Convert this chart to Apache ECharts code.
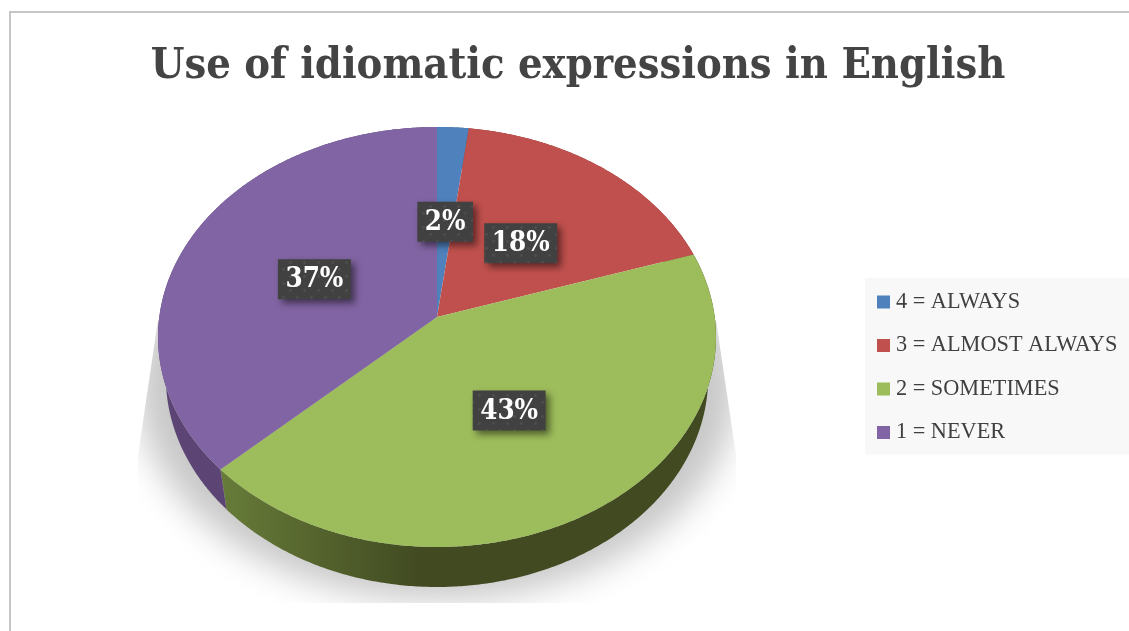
<!DOCTYPE html>
<html>
<head>
<meta charset="utf-8">
<title>Use of idiomatic expressions in English</title>
<style>
  html, body { margin: 0; padding: 0; background: #fff; }
  #chart { width: 1129px; height: 631px; }
</style>
<script src="https://cdn.jsdelivr.net/npm/echarts@6/dist/echarts.min.js"></script>
</head>
<body>
<div id="chart"></div>
<script>
// Survey answers, in the order the slices run clockwise from twelve o'clock.
const categories = ['4 = ALWAYS', '3 = ALMOST ALWAYS', '2 = SOMETIMES', '1 = NEVER'];
const shares = [2, 18, 43, 37];
const topColors = ['#4f81bd', '#c0504d', '#9dbc5b', '#8164a3'];
const wallColors = ['#3a5a80', '#83322f', '#414a21', '#5c4475'];
const titleText = 'Use of idiomatic expressions in English';
const serifFont = '"Liberation Serif", serif';
const headingFont = '"DejaVu Serif Condensed", "DejaVu Serif", serif';

// Tilted disc: a unit circle seen in perspective, with the near rim larger than the far rim.
const disc = { cx: 437, cy: 317, a: 277.7, b: 208.1, k: 0.0952, depth: 40, wallInset: 0.972, labelRadius: 0.49 };
const total = shares.reduce((s, v) => s + v, 0);

function project(theta, r) {
  const X = r * Math.sin(theta), Y = r * Math.cos(theta);
  const w = 1 + disc.k * Y;
  return [disc.cx + disc.a * X / w, disc.cy - disc.b * Y / w];
}
function floorPoint(theta) {
  const p = project(theta, 1);
  return [disc.cx + (p[0] - disc.cx) * disc.wallInset, p[1] + disc.depth];
}
function arc(fn, from, to) {
  const steps = Math.max(2, Math.ceil(Math.abs(to - from) / (Math.PI / 360)));
  const pts = [];
  for (let i = 0; i <= steps; i++) pts.push(fn(from + (to - from) * i / steps));
  return pts;
}

// Speckled tile behind the percentage labels.
const speckle = document.createElement('canvas');
speckle.width = speckle.height = 14;
(function () {
  const c = speckle.getContext('2d');
  c.fillStyle = '#414141';
  c.fillRect(0, 0, 14, 14);
  c.fillStyle = '#4f4f4f';
  [[3.5, 3.5], [10.5, 10.5]].forEach(p => {
    c.beginPath();
    c.arc(p[0], p[1], 1.4, 0, Math.PI * 2);
    c.fill();
  });
})();

const measure = document.createElement('canvas').getContext('2d');
const labelFont = 'bold 27.5px ' + headingFont;
measure.font = labelFont;

function renderSlice(index) {
  return function (params, api) {
    const before = shares.slice(0, index).reduce((s, v) => s + v, 0);
    const start = before / total * Math.PI * 2;
    const end = (before + api.value(0)) / total * Math.PI * 2;
    const rim = arc(t => project(t, 1), start, end);
    const floor = arc(floorPoint, start, end).reverse();
    const wallFill = index === 2
      ? { type: 'linear', x: 220, y: 0, x2: 420, y2: 0, global: true,
          colorStops: [{ offset: 0, color: '#677c39' }, { offset: 1, color: wallColors[2] }] }
      : wallColors[index];

    const mid = (start + end) / 2;
    const anchor = project(mid, disc.labelRadius);
    const cy = anchor[1] + 2;
    const text = Math.round(api.value(0) / total * 100) + '%';
    const boxW = measure.measureText(text).width + 15;
    const boxH = 40;

    return {
      type: 'group',
      children: [
        { type: 'polygon', z2: 1, shape: { points: rim.concat(floor) }, style: { fill: wallFill } },
        { type: 'polygon', z2: 2, shape: { points: [[disc.cx, disc.cy]].concat(rim) }, style: { fill: topColors[index] } },
        { type: 'rect', z2: 3,
          shape: { x: anchor[0] - boxW / 2, y: cy - boxH / 2, width: boxW, height: boxH },
          style: { fill: { image: speckle, repeat: 'repeat' }, shadowBlur: 7, shadowOffsetX: 4, shadowOffsetY: 4, shadowColor: 'rgba(0,0,0,0.5)' } },
        { type: 'text', z2: 4, x: anchor[0], y: cy + 1,
          style: { text: text, font: labelFont, fill: '#ffffff', align: 'center', verticalAlign: 'middle' } }
      ]
    };
  };
}

// Soft shadow on the ground: the outline sits off-canvas so only its blur lands on the page.
function renderGroundShadow() {
  const shift = 3000;
  const outline = arc(t => {
    const p = project(t, 1);
    return [disc.cx + (p[0] - disc.cx) * 1.075 - shift, 385 + (p[1] - 337) * 1.024];
  }, 0, Math.PI * 2);
  return {
    type: 'polygon', z2: 0,
    shape: { points: outline },
    style: { fill: '#000', shadowColor: '#c8c8c8', shadowBlur: 34, shadowOffsetX: shift },
    clipPath: { type: 'polygon', shape: { points: [[158, 320], [716, 320], [736, 455], [736, 603], [138, 603], [138, 455]] } }
  };
}

const chart = echarts.init(document.getElementById('chart'));
chart.setOption({
  backgroundColor: '#ffffff',
  animation: false,
  title: {
    text: titleText, left: 573, top: 40, textAlign: 'center',
    textStyle: { fontFamily: headingFont, fontWeight: 'bold', fontSize: 43, color: '#444444' }
  },
  legend: {
    data: categories, orient: 'vertical', left: 865, top: 278,
    padding: [13, 40, 11, 12], itemGap: 21.5, itemWidth: 13, itemHeight: 13, icon: 'rect',
    backgroundColor: '#f8f8f8', selectedMode: false,
    textStyle: { fontFamily: serifFont, fontSize: 22.3, color: '#404040', padding: [0, 0, 0, 1] }
  },
  graphic: [{
    type: 'polyline', silent: true,
    shape: { points: [[10, 631], [10, 12], [1129, 12]] },
    style: { stroke: '#c6c6c6', lineWidth: 2, fill: null }
  }],
  series: [
    { type: 'custom', name: 'ground', coordinateSystem: 'none', silent: true, data: [[0]], renderItem: renderGroundShadow }
  ].concat(categories.map((name, i) => ({
    type: 'custom', name: name, coordinateSystem: 'none',
    itemStyle: { color: topColors[i] },
    data: [[shares[i]]],
    renderItem: renderSlice(i)
  })))
});
</script>
</body>
</html>
